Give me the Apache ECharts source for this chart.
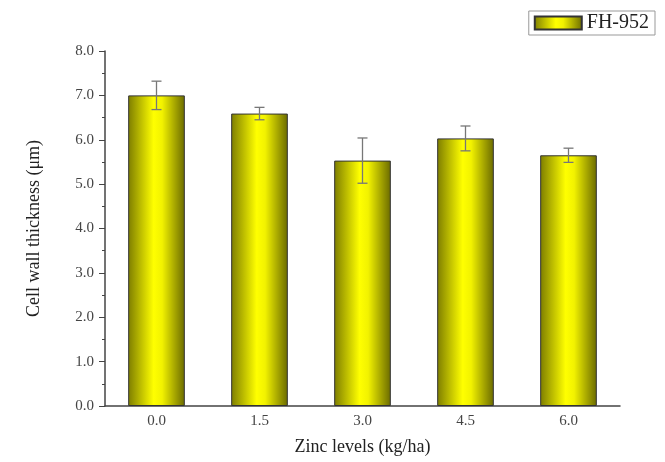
<!DOCTYPE html>
<html>
<head>
<meta charset="utf-8">
<script src="https://cdn.jsdelivr.net/npm/echarts@6/dist/echarts.min.js"></script>
<style>
  html, body { margin: 0; padding: 0; background: #fff; }
  #main { width: 665px; height: 462px; }
</style>
</head>
<body>
<div id="main"></div>
<script>
var zincLevels = ['0.0', '1.5', '3.0', '4.5', '6.0'];
var wallThickness = [7.0, 6.59, 5.53, 6.03, 5.65];
var wallError = [0.32, 0.14, 0.51, 0.28, 0.16];

var myChart = echarts.init(document.getElementById('main'));

var barFill = new echarts.graphic.LinearGradient(0, 0, 1, 0, [
    { offset: 0, color: '#7d7d00' },
    { offset: 0.45, color: '#ffff00' },
    { offset: 0.6, color: '#f2f200' },
    { offset: 1, color: '#6a6a00' }
]);

var errData = wallThickness.map(function (v, i) {
    return [i, v - wallError[i], v + wallError[i]];
});

var font = 'Liberation Serif, Times New Roman, serif';

var option = {
    animation: false,
    textStyle: { fontFamily: font },
    grid: { left: 105, right: 45, top: 51, bottom: 56, outerBoundsMode: 'none' },
    legend: {
        data: ['FH-952'],
        icon: 'rect',
        right: 10,
        top: 11,
        padding: [2, 6, 2, 5],
        borderColor: '#999',
        borderWidth: 1,
        itemWidth: 47,
        itemHeight: 13,
        itemGap: 4,
        textStyle: { fontFamily: font, fontSize: 20, color: '#222' }
    },
    xAxis: {
        type: 'category',
        data: zincLevels,
        name: 'Zinc levels (kg/ha)',
        nameLocation: 'middle',
        nameGap: 32,
        nameTextStyle: { fontFamily: font, fontSize: 18, color: '#222' },
        axisLine: { lineStyle: { color: '#444', width: 1.5 } },
        axisTick: { show: false },
        axisLabel: { fontFamily: font, fontSize: 15, color: '#444', margin: 8 }
    },
    yAxis: {
        type: 'value',
        min: 0,
        max: 8,
        interval: 1,
        name: 'Cell wall thickness (\u03bcm)',
        nameLocation: 'middle',
        nameGap: 62,
        nameTextStyle: { fontFamily: font, fontSize: 18, color: '#222' },
        axisLine: { show: true, lineStyle: { color: '#444', width: 1.5 } },
        axisTick: { show: true, inside: false, length: 6, lineStyle: { color: '#444' } },
        minorTick: { show: true, splitNumber: 2, length: 3, lineStyle: { color: '#444' } },
        splitLine: { show: false },
        axisLabel: {
            fontFamily: font, fontSize: 15, color: '#444', margin: 11,
            formatter: function (v) { return v.toFixed(1); }
        }
    },
    series: [
        {
            name: 'FH-952',
            type: 'bar',
            data: wallThickness,
            barWidth: '55%',
            itemStyle: { color: barFill, borderColor: '#333', borderWidth: 1 }
        },
        {
            name: 'error',
            type: 'custom',
            data: errData,
            z: 10,
            renderItem: function (params, api) {
                var x = api.value(0);
                var lo = api.coord([x, api.value(1)]);
                var hi = api.coord([x, api.value(2)]);
                var cap = 5;
                var st = { stroke: '#777', lineWidth: 1.3 };
                return {
                    type: 'group',
                    children: [
                        { type: 'line', shape: { x1: hi[0], y1: hi[1], x2: lo[0], y2: lo[1] }, style: st },
                        { type: 'line', shape: { x1: hi[0] - cap, y1: hi[1], x2: hi[0] + cap, y2: hi[1] }, style: st },
                        { type: 'line', shape: { x1: lo[0] - cap, y1: lo[1], x2: lo[0] + cap, y2: lo[1] }, style: st }
                    ]
                };
            }
        }
    ]
};
myChart.setOption(option);
</script>
</body>
</html>
